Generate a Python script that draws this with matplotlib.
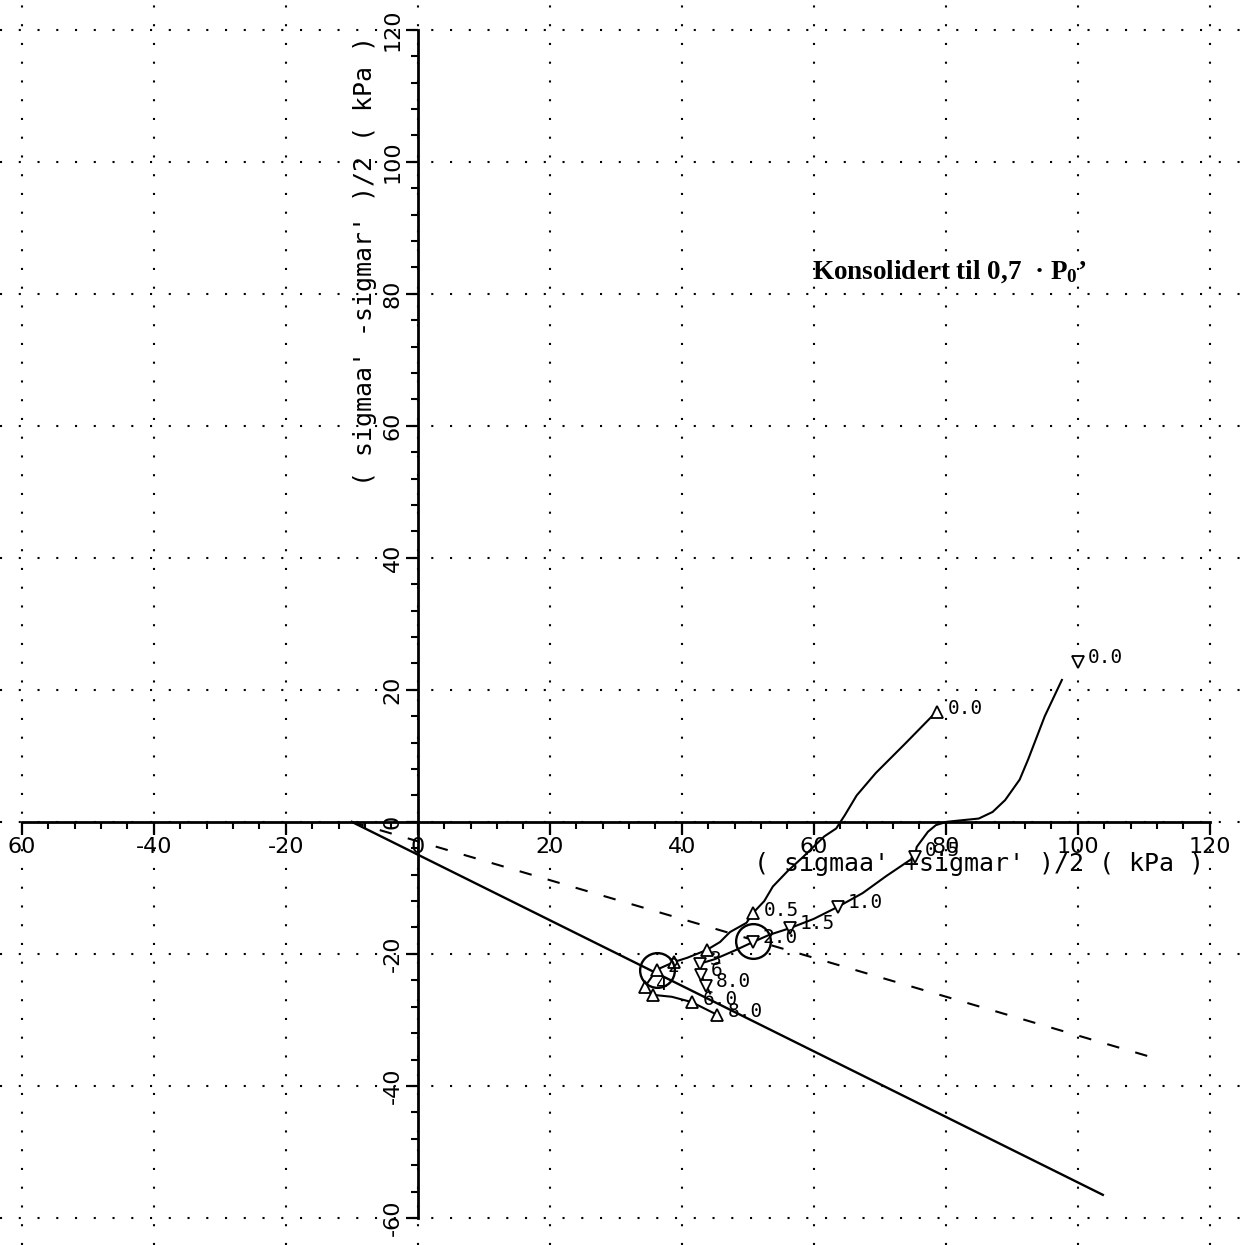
import matplotlib
matplotlib.use("Agg")
import matplotlib.pyplot as plt
from matplotlib.ticker import FixedLocator

# stress path A (up triangles)
path_a_x = [78.6, 74.0, 69.4, 66.5, 64.7, 63.4, 61.6, 58.4, 56.0, 53.8, 52.5, 50.8,
            49.8, 47.3, 45.8, 43.8, 40.8, 38.9, 36.2, 34.4, 35.6, 38.5, 41.5, 45.3]
path_a_y = [16.7, 12.0, 7.4, 4.0, 1.0, -1.0, -2.2, -5.3, -7.5, -9.8, -12.0, -13.8,
            -15.3, -16.7, -18.2, -19.4, -20.6, -21.2, -22.4, -25.0, -26.2, -26.5, -27.3, -29.2]
marks_a_x = [78.6, 50.8, 43.8, 38.9, 36.2, 34.4, 35.6, 41.5, 45.3]
marks_a_y = [16.7, -13.8, -19.4, -21.2, -22.4, -25.0, -26.2, -27.3, -29.2]
labels_a = ["0.0", "0.5", "", "", "2", "4", "", "6.0", "8.0"]

# stress path B (down triangles)
path_b_x = [97.6, 95.0, 92.5, 91.2, 89.0, 87.1, 85.0, 82.0, 80.1, 78.5, 77.3, 75.6,
            75.3, 71.0, 67.4, 63.6, 60.0, 56.4, 53.3, 50.8, 48.0, 45.0, 42.7, 42.9, 43.7, 44.3]
path_b_y = [21.5, 16.0, 9.5, 6.4, 3.3, 1.5, 0.5, 0.2, 0.0, -0.5, -1.5, -3.8,
            -5.3, -8.2, -10.8, -12.9, -14.7, -16.1, -17.1, -18.2, -19.5, -20.8, -21.5, -23.2, -24.8, -26.0]
marks_b_x = [100.0, 75.3, 63.6, 56.4, 50.8, 42.7, 42.9, 43.7]
marks_b_y = [24.2, -5.3, -12.9, -16.1, -18.2, -21.5, -23.2, -24.8]
labels_b = ["0.0", "0.5", "1.0", "1.5", "2.0", "3", "6", "8.0"]

circles_x = [36.2, 50.8]
circles_y = [-22.4, -18.0]

# failure lines
solid_x = [-10.0, 103.8]
solid_y = [0.0, -56.5]
dash_x = [-10.0, 111.7]
dash_y = [0.0, -35.8]

ticks = [-60, -40, -20, 0, 20, 40, 60, 80, 100, 120]
xtick_labels = ["60", "-40", "-20", "0", "20", "40", "60", "80", "100", "120"]
ytick_labels = ["-60", "-40", "-20", "0", "20", "40", "60", "80", "100", "120"]

plt.rcParams['mathtext.fontset'] = 'custom'
plt.rcParams['mathtext.rm'] = 'Liberation Serif:bold'
plt.rcParams['mathtext.it'] = 'Liberation Serif:bold'

fig = plt.figure(figsize=(12.5, 12.45), dpi=100)
ax = fig.add_axes([0, 0, 1, 1])
ax.set_xlim(-63.3, 126.1)
ax.set_ylim(-64.1, 124.5)

# spines through origin
for side in ["top", "right"]:
    ax.spines[side].set_visible(False)
for side in ["left", "bottom"]:
    ax.spines[side].set_position(("data", 0))
    ax.spines[side].set_bounds(-60, 120)
    ax.spines[side].set_linewidth(2.0)
    ax.spines[side].set_zorder(5)

ax.set_xticks(ticks)
ax.set_yticks(ticks)
ax.set_xticklabels(xtick_labels, fontsize=16)
ax.set_yticklabels(ytick_labels, fontsize=16, rotation=90, va="center")
minor = list(range(-60, 121, 4))
ax.xaxis.set_minor_locator(FixedLocator(minor))
ax.yaxis.set_minor_locator(FixedLocator(minor))
ax.tick_params(which="major", direction="out", length=9, width=1.6, pad=2)
ax.tick_params(which="minor", direction="out", length=5, width=1.5)
ax.grid(True, which="major", color="black", linestyle=(0, (1, 8)), linewidth=1.5)
ax.set_axisbelow(True)

# failure lines
ax.plot(solid_x, solid_y, color="black", linewidth=1.7)
ax.plot(dash_x, dash_y, color="black", linewidth=1.5, linestyle=(0, (6, 8)))

# stress paths
ax.plot(path_a_x, path_a_y, color="black", linewidth=1.5)
ax.plot(path_b_x, path_b_y, color="black", linewidth=1.5)
ax.plot(marks_a_x, marks_a_y, linestyle="None", marker="^", markersize=9,
        markerfacecolor="white", markeredgecolor="black", markeredgewidth=1.3)
ax.plot(marks_b_x, marks_b_y, linestyle="None", marker="v", markersize=9,
        markerfacecolor="white", markeredgecolor="black", markeredgewidth=1.3)
ax.plot(circles_x, circles_y, linestyle="None", marker="o", markersize=25,
        markerfacecolor="none", markeredgecolor="black", markeredgewidth=1.7)

for x, y, s in zip(marks_a_x, marks_a_y, labels_a):
    ax.annotate(s, (x, y), xytext=(8, 2), textcoords="offset points",
                fontsize=14, family="DejaVu Sans Mono", va="center")
for x, y, s in zip(marks_b_x, marks_b_y, labels_b):
    dy = 4.5 if s == "0.5" else 3
    ax.annotate(s, (x, y), xytext=(7, dy), textcoords="offset points",
                fontsize=14, family="DejaVu Sans Mono", va="center")

# axis titles
ax.text(51.0, -6.4, "( sigmaa' +sigmar' )/2 ( kPa )", fontsize=18,
        family="DejaVu Sans Mono", ha="left", va="center")
ax.text(-8.0, 85.0, "( sigmaa' -sigmar' )/2 ( kPa )", fontsize=18,
        family="DejaVu Sans Mono", ha="center", va="center", rotation=90)

ax.text(59.8, 83.3, "Konsolidert til 0,7  \u00b7 P$_0$\u2019", fontsize=19.5,
        family="Liberation Serif", fontweight="bold", ha="left", va="center")

fig.savefig("out.png", dpi=100, facecolor="white")
